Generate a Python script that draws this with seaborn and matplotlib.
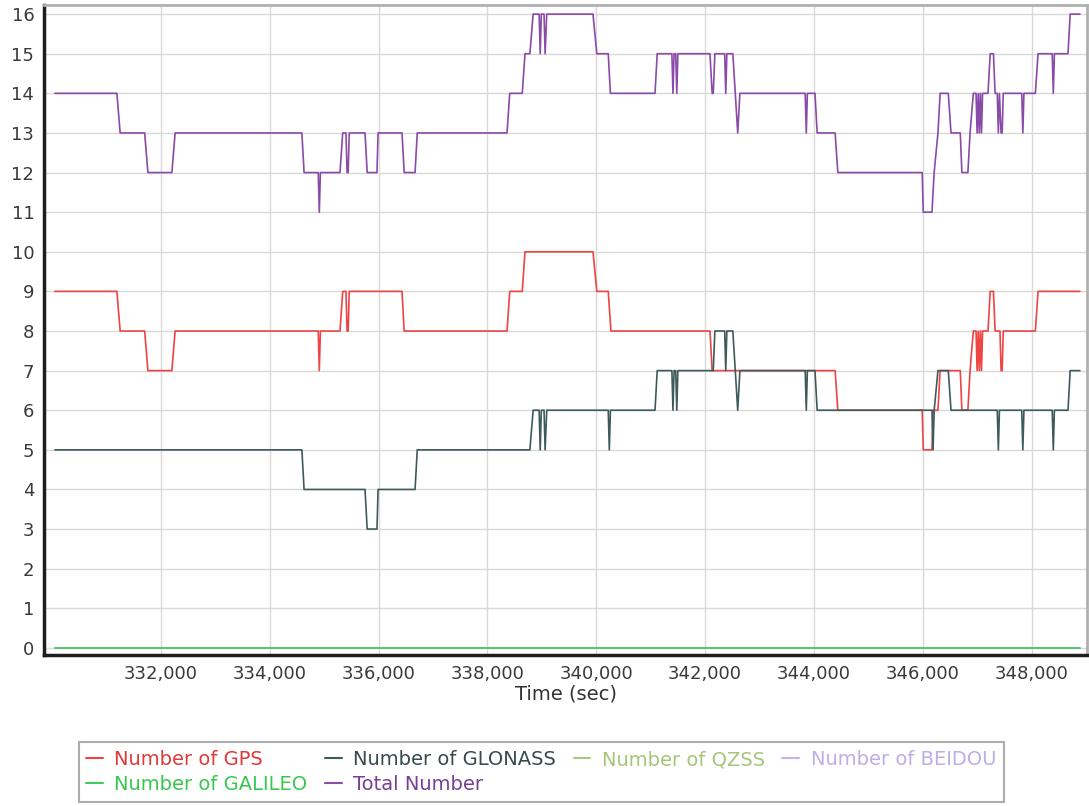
import matplotlib
matplotlib.use("Agg")
import matplotlib.pyplot as plt
from matplotlib.lines import Line2D
from matplotlib.ticker import MultipleLocator, FuncFormatter
import seaborn as sns
import pandas as pd

# --- data (time in sec, satellite count) ---
gps_t = [330050, 331190, 331250, 331700, 331760, 332200, 332260, 334890, 334910, 334930,
         335290, 335340, 335400, 335420, 335440, 335460, 336430, 336470, 338360, 338410,
         338640, 338690, 339940, 340010, 340220, 340270, 342090, 342130, 344390, 344440,
         345990, 346010, 346170, 346190, 346280, 346320, 346690, 346720, 346830, 346870,
         346930, 346980, 347000, 347020, 347040, 347060, 347080, 347100, 347200, 347240,
         347300, 347330, 347420, 347440, 347460, 347480, 348070, 348120, 348890]
gps_n = [9, 9, 8, 8, 7, 7, 8, 8, 7, 8,
         8, 9, 9, 8, 8, 9, 9, 8, 8, 9,
         9, 10, 10, 9, 9, 8, 8, 7, 7, 6,
         6, 5, 5, 6, 6, 7, 7, 6, 6, 7,
         8, 8, 7, 8, 7, 8, 7, 8, 8, 9,
         9, 8, 8, 7, 7, 8, 8, 9, 9]

glo_t = [330050, 334590, 334630, 335750, 335790, 335970, 335990, 336670, 336710, 338780,
         338840, 338950, 338970, 338990, 339040, 339060, 339090, 340220, 340240, 340260,
         341080, 341120, 341390, 341410, 341430, 341460, 341480, 341500, 342150, 342180,
         342360, 342380, 342400, 342510, 342600, 342640, 343840, 343860, 343880, 344020,
         344060, 346170, 346190, 346210, 346280, 346470, 346520, 347370, 347390, 347410,
         347820, 347840, 347860, 348380, 348400, 348420, 348670, 348710, 348890]
glo_n = [5, 5, 4, 4, 3, 3, 4, 4, 5, 5,
         6, 6, 5, 6, 6, 5, 6, 6, 5, 6,
         6, 7, 7, 6, 7, 7, 6, 7, 7, 8,
         8, 7, 8, 8, 6, 7, 7, 6, 7, 7,
         6, 6, 5, 6, 7, 7, 6, 6, 5, 6,
         6, 5, 6, 6, 5, 6, 6, 7, 7]

tot_t = [330050, 331190, 331250, 331700, 331760, 332200, 332260, 334590, 334630, 334890,
         334910, 334930, 335290, 335340, 335400, 335420, 335440, 335460, 335750, 335790,
         335970, 335990, 336430, 336470, 336670, 336710, 338360, 338410, 338640, 338690,
         338780, 338840, 338950, 338970, 338990, 339040, 339060, 339090, 339940, 340010,
         340220, 340260, 341080, 341120, 341390, 341410, 341430, 341460, 341480, 341500,
         342090, 342130, 342150, 342180, 342360, 342380, 342400, 342510, 342600, 342640,
         343840, 343860, 343880, 344020, 344060, 344390, 344440, 345990, 346010, 346170,
         346210, 346280, 346320, 346470, 346520, 346690, 346720, 346830, 346870, 346930,
         346980, 347000, 347020, 347040, 347060, 347080, 347100, 347200, 347240, 347300,
         347330, 347370, 347390, 347410, 347440, 347460, 347480, 347820, 347840, 347860,
         348070, 348120, 348380, 348400, 348420, 348670, 348710, 348890]
tot_n = [14, 14, 13, 13, 12, 12, 13, 13, 12, 12,
         11, 12, 12, 13, 13, 12, 12, 13, 13, 12,
         12, 13, 13, 12, 12, 13, 13, 14, 14, 15,
         15, 16, 16, 15, 16, 16, 15, 16, 16, 15,
         15, 14, 14, 15, 15, 14, 15, 15, 14, 15,
         15, 14, 14, 15, 15, 14, 15, 15, 13, 14,
         14, 13, 14, 14, 13, 13, 12, 12, 11, 11,
         12, 13, 14, 14, 13, 13, 12, 12, 13, 14,
         14, 13, 14, 13, 14, 13, 14, 14, 15, 15,
         14, 14, 13, 14, 13, 13, 14, 14, 13, 14,
         14, 15, 15, 14, 15, 15, 16, 16]

# QZSS, BEIDOU and GALILEO stay at zero over the whole span
zero_t = [330050, 348890]
zero_n = [0, 0]

series = ["Number of GPS", "Number of GLONASS", "Number of QZSS",
          "Number of BEIDOU", "Number of GALILEO", "Total Number"]
colors = {
    "Number of GPS": "#ee4444",
    "Number of GLONASS": "#3f5a5a",
    "Number of QZSS": "#a9c97a",
    "Number of BEIDOU": "#c4b2ee",
    "Number of GALILEO": "#3fcc5a",
    "Total Number": "#8a4aa8",
}
text_colors = {
    "Number of GPS": "#e03a3a",
    "Number of GLONASS": "#3a4a4a",
    "Number of QZSS": "#a6c57a",
    "Number of BEIDOU": "#bcaee8",
    "Number of GALILEO": "#38c84e",
    "Total Number": "#7a3e96",
}

xy = {
    "Number of GPS": (gps_t, gps_n),
    "Number of GLONASS": (glo_t, glo_n),
    "Number of QZSS": (zero_t, zero_n),
    "Number of BEIDOU": (zero_t, zero_n),
    "Number of GALILEO": (zero_t, zero_n),
    "Total Number": (tot_t, tot_n),
}
frames = [pd.DataFrame({"Time": t, "Count": n, "Series": s}) for s, (t, n) in xy.items()]
df = pd.concat(frames, ignore_index=True)

sns.set_theme(style="white")
plt.rcParams["font.family"] = ["DejaVu Sans"]

fig = plt.figure(figsize=(10.89, 8.06), dpi=100)
ax = fig.add_axes([0.0404, 0.1873, 0.9578, 0.8065])

sns.lineplot(data=df, x="Time", y="Count", hue="Series", hue_order=series,
             palette=colors, estimator=None, sort=False, linewidth=1.2,
             legend=False, ax=ax)

ax.set_xlim(329850, 349020)
ax.set_ylim(-0.18, 16.23)
ax.xaxis.set_minor_locator(MultipleLocator(200))
ax.yaxis.set_major_locator(MultipleLocator(1))
ax.yaxis.set_minor_locator(MultipleLocator(0.2))
ax.set_xticks(range(332000, 348001, 2000))
ax.xaxis.set_major_formatter(FuncFormatter(lambda v, p: f"{int(v):,}"))
ax.grid(True, which="major", color="#d9d9d9", linewidth=1.0)
ax.set_axisbelow(True)

ax.tick_params(axis="both", which="major", labelsize=13, colors="#444444",
               length=4, width=1, direction="out", pad=3)
ax.tick_params(axis="both", which="minor", length=2, width=0.8, color="#444444",
               direction="out")
ax.tick_params(axis="both", labelcolor="#3a3a3a")

for side in ["left", "bottom"]:
    ax.spines[side].set_color("#1e1e1e")
    ax.spines[side].set_linewidth(2.5)
for side in ["top", "right"]:
    ax.spines[side].set_color("#b0b0b0")
    ax.spines[side].set_linewidth(2)

ax.set_xlabel("Time (sec)", fontsize=14, color="#333333", labelpad=1)
ax.set_ylabel("")

# legend: 4 columns laid out row by row like the original
order = ["Number of GPS", "Number of GALILEO", "Number of GLONASS",
         "Total Number", "Number of QZSS", "Number of BEIDOU"]
handles = [Line2D([0], [0], color=colors[s], lw=1.5) for s in order]
leg = fig.legend(handles, order, loc="center", bbox_to_anchor=(0.497, 0.042),
                 ncol=4, fontsize=14, frameon=True, fancybox=False,
                 handlelength=0.85, handletextpad=0.6, columnspacing=0.9,
                 borderpad=0.4, labelspacing=0.3, borderaxespad=0)
leg.get_frame().set_edgecolor("#999999")
leg.get_frame().set_linewidth(1.5)
for txt, s in zip(leg.get_texts(), order):
    txt.set_color(text_colors[s])

fig.savefig("out.png", dpi=100)
